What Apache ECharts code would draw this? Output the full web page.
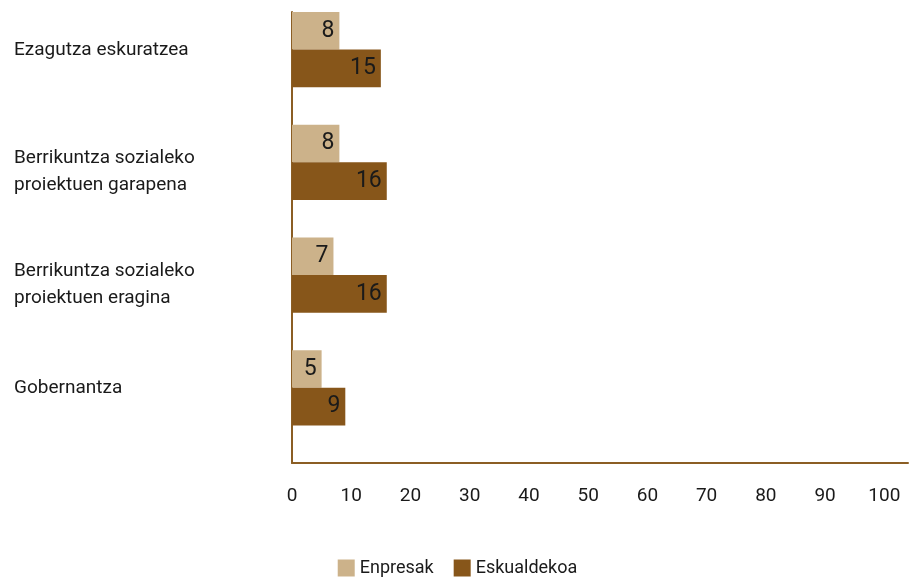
<!DOCTYPE html>
<html><head><meta charset="utf-8">
<script src="https://cdn.jsdelivr.net/npm/echarts@6/dist/echarts.min.js"></script>
<style>html,body{margin:0;padding:0;background:#fff}#c{width:915px;height:582px}</style>
</head><body><div id="c"></div>
<script>
const categories = ["Ezagutza eskuratzea", "Berrikuntza sozialeko\nproiektuen garapena", "Berrikuntza sozialeko\nproiektuen eragina", "Gobernantza"];
const enpresak = [8, 8, 7, 5];
const eskualdekoa = [15, 16, 16, 9];
const xTicks = [0, 10, 20, 30, 40, 50, 60, 70, 80, 90, 100];
const seriesNames = ["Enpresak", "Eskualdekoa"];

const FONT = 'Roboto, "Noto Sans", sans-serif';
const LIGHT = '#CCB28A', DARK = '#87561A', AXIS = '#8B5E24';
const chart = echarts.init(document.getElementById('c'), null, {renderer: 'canvas'});
const lbl = {show: true, position: 'insideRight', color: '#1a1a1a', fontSize: 23, fontFamily: FONT, distance: 5};
chart.setOption({
  animation: false,
  textStyle: {fontFamily: FONT},
  grid: {left: 292, right: 7, top: 12, bottom: 119, containLabel: false},
  legend: {
    data: seriesNames, bottom: 0, left: 'center', itemWidth: 17, itemHeight: 17, itemGap: 20,
    icon: 'rect', textStyle: {fontSize: 18, color: '#1a1a1a', fontFamily: FONT}
  },
  xAxis: {
    type: 'value', min: 0, max: 104, interval: 10,
    axisLine: {show: true, lineStyle: {color: AXIS, width: 2}},
    axisTick: {show: false}, splitLine: {show: false},
    axisLabel: {
      showMaxLabel: false, margin: 24, fontSize: 19, color: '#1a1a1a', fontFamily: FONT,
      formatter: v => xTicks.includes(v) ? String(v) : ''
    }
  },
  yAxis: {
    type: 'category', data: categories, inverse: true,
    axisLine: {show: true, lineStyle: {color: AXIS, width: 2}},
    axisTick: {show: false},
    axisLabel: {
      align: 'left', margin: 278, color: '#1a1a1a', fontFamily: FONT,
      formatter: v => {
        const lines = v.split('\n');
        const body = lines.map(l => '{t|' + l + '}').join('\n');
        return body + (lines.length === 1 ? '\n{s1| }' : '\n{s2| }');
      },
      rich: {
        t: {fontSize: 19, lineHeight: 27, color: '#1a1a1a', fontFamily: FONT},
        s1: {fontSize: 10, lineHeight: 36},
        s2: {fontSize: 10, lineHeight: 18}
      }
    }
  },
  series: [
    {name: seriesNames[0], type: 'bar', data: enpresak, itemStyle: {color: LIGHT}, barGap: '0%', barCategoryGap: '0%', label: lbl},
    {name: seriesNames[1], type: 'bar', data: eskualdekoa, itemStyle: {color: DARK}, label: lbl},
    {name: 'spacer', type: 'bar', data: categories.map(() => null), silent: true}
  ]
});
</script></body></html>
